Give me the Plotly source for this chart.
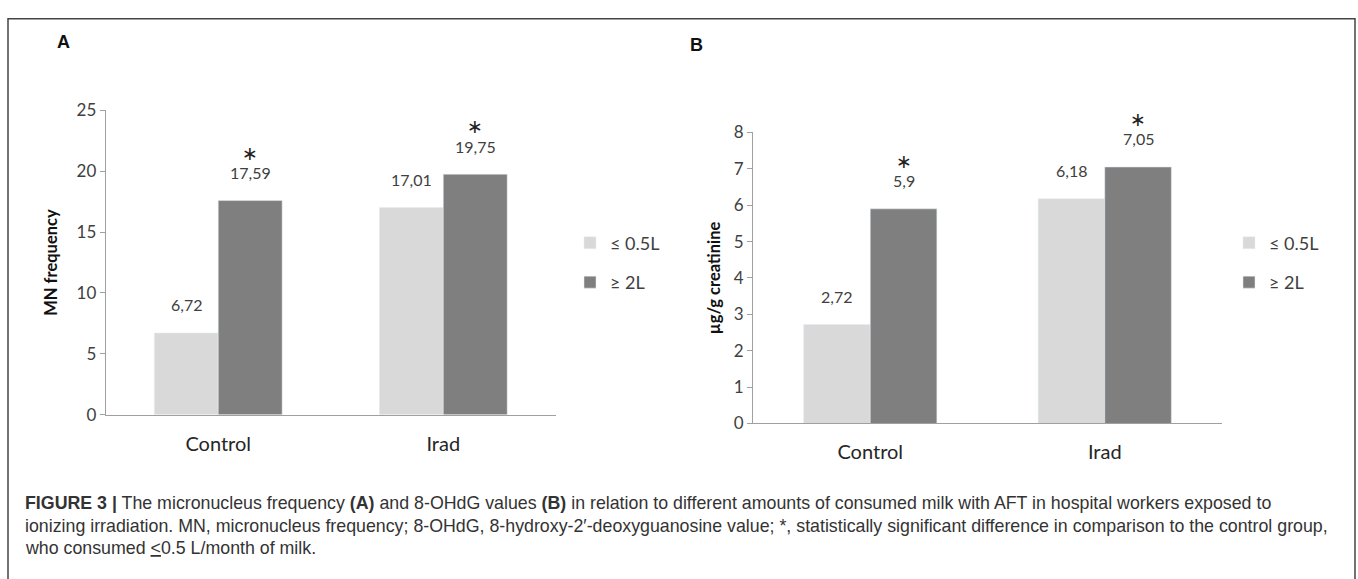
import plotly.graph_objects as go

W, H = 1358, 579

# ---- data ----
categories = ["Control", "Irad"]
series_names = ["≤ 0.5L", "≥ 2L"]
mn_low = [6.72, 17.01]
mn_high = [17.59, 19.75]
ohdg_low = [2.72, 6.18]
ohdg_high = [5.90, 7.05]
mn_labels_low = ["6,72", "17,01"]
mn_labels_high = ["17,59", "19,75"]
ohdg_labels_low = ["2,72", "6,18"]
ohdg_labels_high = ["5,9", "7,05"]
significant_high = [True, True]
mn_ticks = [0, 5, 10, 15, 20, 25]
ohdg_ticks = [0, 1, 2, 3, 4, 5, 6, 7, 8]

LIGHT = "#d9d9d9"
DARK = "#7f7f7f"
AXIS = "#a0a0a0"
TXT = "#404040"
FONT = "Lato"
BARGAP = 0.432


def px(x):
    return x / W


def py(y):
    return 1 - y / H


fig = go.Figure()

# Panel A bars
fig.add_trace(go.Bar(x=categories, y=mn_low, name=series_names[0], marker_color=LIGHT,
                     xaxis="x", yaxis="y", legend="legend", legendgroup="a1",
                     offsetgroup="1"))
fig.add_trace(go.Bar(x=categories, y=mn_high, name=series_names[1], marker_color=DARK,
                     xaxis="x", yaxis="y", legend="legend", legendgroup="a2",
                     offsetgroup="2"))
# Panel B bars
fig.add_trace(go.Bar(x=categories, y=ohdg_low, name=series_names[0], marker_color=LIGHT,
                     xaxis="x2", yaxis="y2", legend="legend2", legendgroup="b1",
                     offsetgroup="1"))
fig.add_trace(go.Bar(x=categories, y=ohdg_high, name=series_names[1], marker_color=DARK,
                     xaxis="x2", yaxis="y2", legend="legend2", legendgroup="b2",
                     offsetgroup="2"))

half = (1 - BARGAP) / 4  # centre offset of each bar in a group
annotations = []


def add_labels(xref, yref, low, high, lab_low, lab_high):
    for i, cat in enumerate(categories):
        annotations.append(dict(x=i - half, y=low[i], xref=xref, yref=yref, text=lab_low[i],
                                showarrow=False, yshift=28,
                                font=dict(family=FONT, size=16, color=TXT)))
        annotations.append(dict(x=i + half, y=high[i], xref=xref, yref=yref, text=lab_high[i],
                                showarrow=False, yshift=28,
                                font=dict(family=FONT, size=16, color=TXT)))
        if significant_high[i]:
            annotations.append(dict(x=i + half, y=high[i], xref=xref, yref=yref, text="∗",
                                    showarrow=False, yshift=48,
                                    font=dict(family="DejaVu Sans", size=19, color="#222222")))


add_labels("x", "y", mn_low, mn_high, mn_labels_low, mn_labels_high)
add_labels("x2", "y2", ohdg_low, ohdg_high, ohdg_labels_low, ohdg_labels_high)

# panel letters
letter_font = dict(family="Liberation Sans", size=18, color="#111")
annotations.append(dict(x=px(63), y=py(32), xref="paper", yref="paper", text="<b>A</b>",
                        xanchor="center", yanchor="middle", showarrow=False, font=letter_font))
annotations.append(dict(x=px(697), y=py(35), xref="paper", yref="paper", text="<b>B</b>",
                        xanchor="center", yanchor="middle", showarrow=False, font=letter_font))

# caption
cap_font = dict(family="Liberation Sans", size=17.8, color="#333333")
caption_lines = [
    "<b>FIGURE 3 |</b> The micronucleus frequency <b>(A)</b> and 8-OHdG values <b>(B)</b> in relation to "
    "different amounts of consumed milk with AFT in hospital workers exposed to",
    "ionizing irradiation. MN, micronucleus frequency; 8-OHdG, 8-hydroxy-2′-deoxyguanosine value; *, "
    "statistically significant difference in comparison to the control group,",
    "who consumed <u>&lt;</u>0.5 L/month of milk.",
]
for line, yy in zip(caption_lines, [510, 534, 557]):
    annotations.append(dict(x=px(23), y=py(yy), xref="paper", yref="paper", text=line,
                            xanchor="left", yanchor="middle", showarrow=False, font=cap_font))

axis_common = dict(showline=True, linecolor=AXIS, linewidth=1, showgrid=False, zeroline=False,
                   ticks="", ticklabelstandoff=11,
                   tickfont=dict(family=FONT, size=20, color="#262626"), fixedrange=True)
yaxis_common = dict(showline=True, linecolor=AXIS, linewidth=1, showgrid=False, zeroline=False,
                    ticks="outside", ticklen=5, tickcolor=AXIS, tickwidth=1,
                    tickfont=dict(family=FONT, size=17, color=TXT), fixedrange=True)

fig.update_layout(
    width=W, height=H,
    margin=dict(l=0, r=0, t=0, b=0),
    paper_bgcolor="white", plot_bgcolor="white",
    barmode="group", bargap=BARGAP, bargroupgap=0,
    xaxis=dict(domain=[px(105.7), px(555.8)], anchor="y", **axis_common),
    yaxis=dict(domain=[py(419), py(103)], anchor="x", range=[0, 25], tickvals=mn_ticks,
               title=dict(text="<b>MN frequency</b>", font=dict(family=FONT, size=16.5, color="#111"),
                          standoff=14),
               **yaxis_common),
    xaxis2=dict(domain=[px(753), px(1222)], anchor="y2", **axis_common),
    yaxis2=dict(domain=[py(428), py(126)], anchor="x2", range=[0, 8], tickvals=ohdg_ticks,
                title=dict(text="<b>µg/g creatinine</b>", font=dict(family=FONT, size=16.5, color="#111"),
                           standoff=8),
                **yaxis_common),
    legend=dict(x=px(570), y=py(261), xanchor="left", yanchor="middle", traceorder="grouped",
                tracegroupgap=13, font=dict(family=FONT, size=18, color=TXT), bgcolor="rgba(0,0,0,0)"),
    legend2=dict(x=px(1229), y=py(261), xanchor="left", yanchor="middle", traceorder="grouped",
                 tracegroupgap=13, font=dict(family=FONT, size=18, color=TXT), bgcolor="rgba(0,0,0,0)"),
    annotations=annotations,
    shapes=[dict(type="rect", xref="paper", yref="paper", x0=px(8), x1=px(1355), y0=-0.05, y1=py(8),
                 line=dict(color="#444444", width=1.5))],
    showlegend=True,
)

fig.write_html("out.html", config={"displayModeBar": False},
               post_script="document.body.style.margin='0';")
